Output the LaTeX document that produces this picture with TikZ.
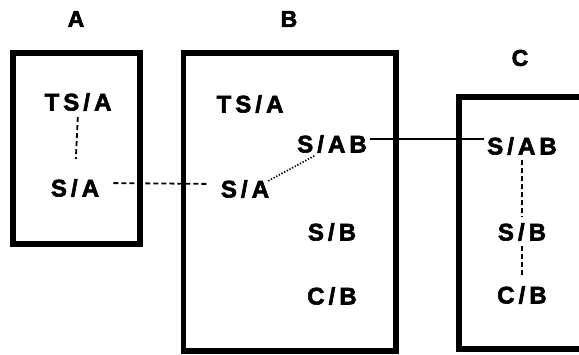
\documentclass[tikz,border=0pt]{standalone}
\usepackage{fontspec}
\newfontfamily\sitefont[LetterSpace=17, BoldFeatures={FakeBold=2.5}]{Liberation Sans}
\usetikzlibrary{positioning, calc}
\tikzset{
  site/.style  = {draw=black, line width=5.5pt, inner sep=0pt},
  lbl/.style   = {font=\sitefont\bfseries\fontsize{24}{24}\selectfont,
                  inner sep=2pt},
  head/.style  = {font=\sitefont\bfseries\fontsize{23}{23}\selectfont,
                  inner sep=1pt},
  dlink/.style = {line width=1.8pt, dash pattern=on 5pt off 3pt},
  plink/.style = {line width=1.7pt, dash pattern=on 1.3pt off 1.7pt},
  slink/.style = {line width=1.5pt},
}
\begin{document}
\begin{tikzpicture}[x=1pt, y=-1pt]
  \clip (0,0) rectangle (579,355);
  \fill[white] (0,0) rectangle (579,355);

  % Sites
  \draw[site] (13,53) rectangle (140,244);
  \draw[site] (183.5,53) rectangle (396,351);
  \draw[site] (459,97) rectangle (600,349);

  % Headers
  \node[head] (hdA) at (76,19) {A};
  \node[head] (hdB) at (289,19) {B};
  \node[head] (hdC) at (520,58) {C};

  % Site A
  \node[lbl] (tsaA) at (78,102) {TS/A};
  \node[lbl] (saA)  at (75,188) {S/A};

  % Site B
  \node[lbl] (tsaB) at (250,104) {TS/A};
  \node[lbl] (sabB) at (332,144) {S/AB};
  \node[lbl] (saB)  at (245,189) {S/A};
  \node[lbl] (sbB)  at (332,232) {S/B};
  \node[lbl] (cbB)  at (332,296) {C/B};

  % Site C
  \node[lbl] (sabC) at (522,146) {S/AB};
  \node[lbl] (sbC)  at (522,232) {S/B};
  \node[lbl] (cbC)  at (522,295) {C/B};

  % Links
  \draw[dlink, shorten <=4pt, shorten >=18pt] (tsaA.south) -- (saA.north);
  \draw[dlink, shorten <=12pt, shorten >=12pt] ([yshift=5pt]saA.east) -- ([yshift=5pt]saB.west);
  \draw[plink] ([xshift=-3pt, yshift=-3pt]saB.north east)
        -- ($(sabB.south west)!0.28!(sabB.south east)$);
  \draw[slink, shorten <=1pt, shorten >=1pt] ([yshift=5pt]sabB.east) -- ([yshift=7pt]sabC.west);
  \draw[dlink, shorten <=3pt, shorten >=4pt] (sabC.south) -- (sbC.north);
  \draw[dlink, shorten <=3pt, shorten >=6pt] (sbC.south) -- (cbC.north);
\end{tikzpicture}
\end{document}
